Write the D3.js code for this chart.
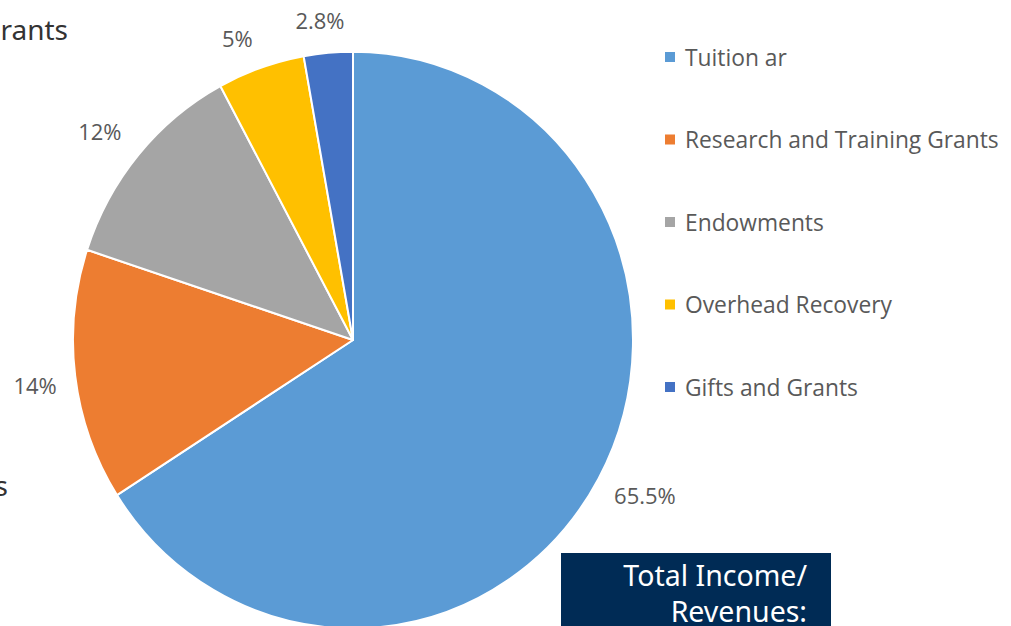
<!DOCTYPE html>
<html>
<head>
<meta charset="utf-8">
<script src="https://cdn.jsdelivr.net/npm/d3@7"></script>
<style>
  html, body { margin: 0; padding: 0; background: #ffffff; overflow: hidden; }
  svg { display: block; }
</style>
</head>
<body>
<svg id="chart" width="1011" height="626"></svg>
<script>
// Income sources and their shares (percent)
const categories = ["Tuition ar", "Research and Training Grants", "Endowments", "Overhead Recovery", "Gifts and Grants"];
const shares = [65.5, 14, 12, 5, 2.8];
const shareLabels = ["65.5%", "14%", "12%", "5%", "2.8%"];
const colors = ["#5B9BD5", "#ED7D31", "#A5A5A5", "#FFC000", "#4472C4"];

const svg = d3.select("#chart");
const W = 1011, H = 626;

const cx = 353, cy = 340;
const radius = 280;
const yStretch = 1.03;

const data = categories.map((c, i) => ({ name: c, value: shares[i], label: shareLabels[i], color: colors[i] }));

const pie = d3.pie().value(d => d.value).sort(null);
const arcs = pie(data);
const arc = d3.arc().innerRadius(0).outerRadius(radius);

const g = svg.append("g").attr("transform", `translate(${cx},${cy}) scale(1,${yStretch})`);

g.selectAll("path.slice")
  .data(arcs)
  .enter().append("path")
  .attr("class", "slice")
  .attr("d", arc)
  .attr("fill", d => d.data.color)
  .attr("stroke", "#ffffff")
  .attr("stroke-width", 2)
  .attr("stroke-linejoin", "round");

// Percentage labels placed just outside each slice
const labelFont = "'Open Sans', 'Noto Sans', sans-serif";
const labelRadius = [1.173, 1.146, 1.158, 1.126, 1.116];
const labelTurn = [-1.45, -0.65, -1.3, -2.3, -1.0]; // degrees
const labelPos = (d, i) => {
  const a = (d.startAngle + d.endAngle) / 2 + labelTurn[i] * Math.PI / 180;
  const r = radius * labelRadius[i];
  return [Math.sin(a) * r, -Math.cos(a) * r * yStretch];
};
const labelG = svg.append("g").attr("transform", `translate(${cx},${cy})`);
labelG.selectAll("text")
  .data(arcs)
  .enter().append("text")
  .attr("x", (d, i) => labelPos(d, i)[0])
  .attr("y", (d, i) => labelPos(d, i)[1])
  .attr("text-anchor", "middle")
  .attr("dominant-baseline", "central")
  .attr("font-family", labelFont)
  .attr("font-size", 22)
  .attr("fill", "#595959")
  .text(d => d.data.label);

// Legend
const legendY = d3.scalePoint().domain(categories).range([57, 387]);
const legend = svg.append("g");
const rows = legend.selectAll("g")
  .data(data)
  .enter().append("g")
  .attr("transform", d => `translate(665,${legendY(d.name)})`);
rows.append("rect")
  .attr("x", 0).attr("y", -5)
  .attr("width", 10).attr("height", 10)
  .attr("fill", d => d.color);
rows.append("text")
  .attr("x", 20).attr("y", 0)
  .attr("dominant-baseline", "central")
  .attr("font-family", labelFont)
  .attr("font-size", 22.8)
  .attr("fill", "#595959")
  .text(d => d.name);

// Surrounding slide text
const slideFont = "'Noto Sans', 'Open Sans', sans-serif";
svg.append("text")
  .attr("x", 68).attr("y", 40)
  .attr("text-anchor", "end")
  .attr("font-family", slideFont)
  .attr("font-size", 28)
  .attr("fill", "#333333")
  .text("rants");
svg.append("text")
  .attr("x", 8).attr("y", 496)
  .attr("text-anchor", "end")
  .attr("font-family", slideFont)
  .attr("font-size", 28)
  .attr("fill", "#333333")
  .text("s");

// Total income box
svg.append("rect")
  .attr("x", 561).attr("y", 553)
  .attr("width", 270).attr("height", H - 553)
  .attr("fill", "#002B55");
svg.append("text")
  .attr("x", 807).attr("y", 586)
  .attr("text-anchor", "end")
  .attr("font-family", slideFont)
  .attr("font-size", 28.5)
  .attr("fill", "#ffffff")
  .text("Total Income/");
svg.append("text")
  .attr("x", 807).attr("y", 622)
  .attr("text-anchor", "end")
  .attr("font-family", slideFont)
  .attr("font-size", 28.5)
  .attr("fill", "#ffffff")
  .text("Revenues:");
</script>
</body>
</html>
